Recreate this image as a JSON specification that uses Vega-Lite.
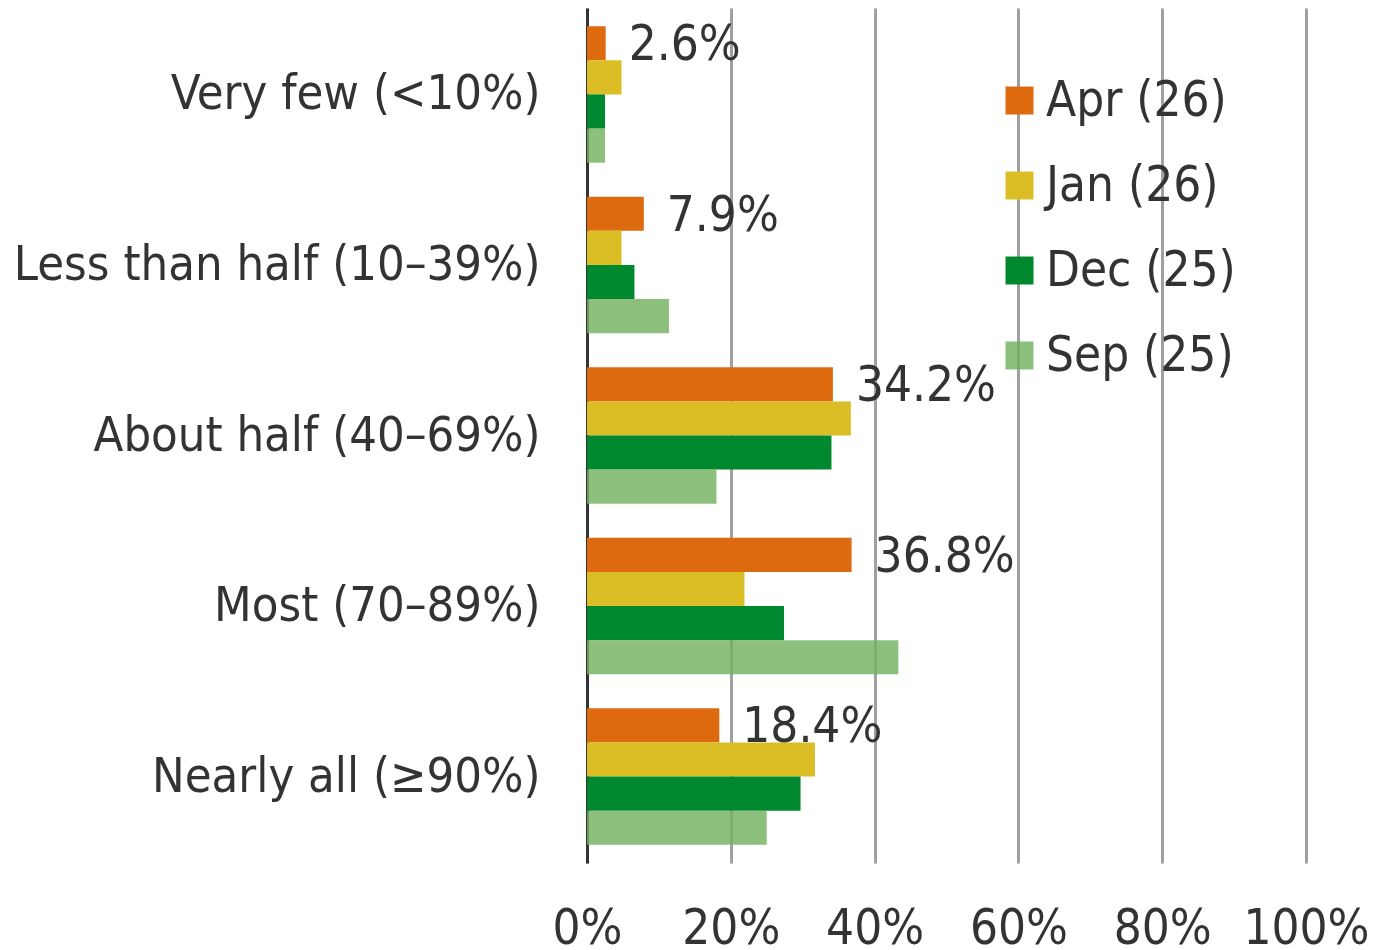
{
  "$schema": "https://vega.github.io/schema/vega-lite/v6.json",
  "width": 719,
  "height": 855,
  "autosize": {"type": "none"},
  "padding": {"left": 587, "top": 8, "right": 67, "bottom": 87},
  "background": "white",
  "config": {
    "font": "DejaVu Sans Condensed, DejaVu Sans",
    "view": {"stroke": null}
  },
  "data": {
    "values": [
      {"category": "Very few (<10%)", "series": "Apr (26)", "value": 2.6, "label": "2.6%"},
      {"category": "Very few (<10%)", "series": "Jan (26)", "value": 4.8},
      {"category": "Very few (<10%)", "series": "Dec (25)", "value": 2.5},
      {"category": "Very few (<10%)", "series": "Sep (25)", "value": 2.5},
      {"category": "Less than half (10–39%)", "series": "Apr (26)", "value": 7.9, "label": "7.9%"},
      {"category": "Less than half (10–39%)", "series": "Jan (26)", "value": 4.8},
      {"category": "Less than half (10–39%)", "series": "Dec (25)", "value": 6.6},
      {"category": "Less than half (10–39%)", "series": "Sep (25)", "value": 11.4},
      {"category": "About half (40–69%)", "series": "Apr (26)", "value": 34.2, "label": "34.2%"},
      {"category": "About half (40–69%)", "series": "Jan (26)", "value": 36.7},
      {"category": "About half (40–69%)", "series": "Dec (25)", "value": 34.0},
      {"category": "About half (40–69%)", "series": "Sep (25)", "value": 18.0},
      {"category": "Most (70–89%)", "series": "Apr (26)", "value": 36.8, "label": "36.8%"},
      {"category": "Most (70–89%)", "series": "Jan (26)", "value": 21.9},
      {"category": "Most (70–89%)", "series": "Dec (25)", "value": 27.4},
      {"category": "Most (70–89%)", "series": "Sep (25)", "value": 43.3},
      {"category": "Nearly all (≥90%)", "series": "Apr (26)", "value": 18.4, "label": "18.4%"},
      {"category": "Nearly all (≥90%)", "series": "Jan (26)", "value": 31.7},
      {"category": "Nearly all (≥90%)", "series": "Dec (25)", "value": 29.7},
      {"category": "Nearly all (≥90%)", "series": "Sep (25)", "value": 25.0}
    ]
  },
  "encoding": {
    "y": {
      "field": "category",
      "type": "nominal",
      "sort": ["Very few (<10%)", "Less than half (10–39%)", "About half (40–69%)", "Most (70–89%)", "Nearly all (≥90%)"],
      "scale": {"paddingInner": 0.2, "paddingOuter": 0.107},
      "axis": {
        "title": null,
        "domain": true,
        "domainColor": "#333333",
        "domainWidth": 3,
        "ticks": false,
        "grid": false,
        "labelFontSize": 48.5,
        "labelColor": "#333333",
        "labelPadding": 47,
        "labelLimit": 0
      }
    },
    "yOffset": {
      "field": "series",
      "type": "nominal",
      "sort": ["Apr (26)", "Jan (26)", "Dec (25)", "Sep (25)"]
    },
    "x": {
      "field": "value",
      "type": "quantitative",
      "scale": {"domain": [0, 100]},
      "axis": {
        "title": null,
        "values": [0, 20, 40, 60, 80, 100],
        "labelExpr": "datum.value + '%'",
        "grid": true,
        "gridColor": "#a0a0a0",
        "gridWidth": 3,
        "domain": false,
        "ticks": false,
        "labelFontSize": 49,
        "labelColor": "#333333",
        "labelPadding": 41,
        "labelFlush": false,
        "labelOverlap": false
      }
    }
  },
  "layer": [
    {
      "mark": {"type": "bar"},
      "encoding": {
        "color": {
          "field": "series",
          "type": "nominal",
          "scale": {
            "domain": ["Apr (26)", "Jan (26)", "Dec (25)", "Sep (25)"],
            "range": ["#DE6A10", "#DBBE26", "#00882E", "#73B25F"]
          },
          "legend": {
            "title": null,
            "orient": "none",
            "legendX": 408,
            "legendY": 68,
            "padding": 0,
            "symbolType": "square",
            "symbolSize": 784,
            "symbolStrokeWidth": 0,
            "labelFontSize": 49,
            "labelColor": "#333333",
            "labelOffset": 2,
            "rowPadding": 35,
            "labelLimit": 0,
            "encode": {
              "symbols": {
                "update": {
                  "fillOpacity": {"signal": "datum.value === 'Sep (25)' ? 0.82 : 1"}
                }
              }
            }
          }
        },
        "fillOpacity": {
          "condition": {"test": "datum.series === 'Sep (25)'", "value": 0.82},
          "value": 1
        }
      }
    },
    {
      "transform": [{"filter": "isValid(datum.label)"}],
      "mark": {"type": "text", "align": "left", "baseline": "middle", "dx": 23, "dy": 2, "fontSize": 49, "color": "#333333"},
      "encoding": {"text": {"field": "label"}}
    }
  ]
}
